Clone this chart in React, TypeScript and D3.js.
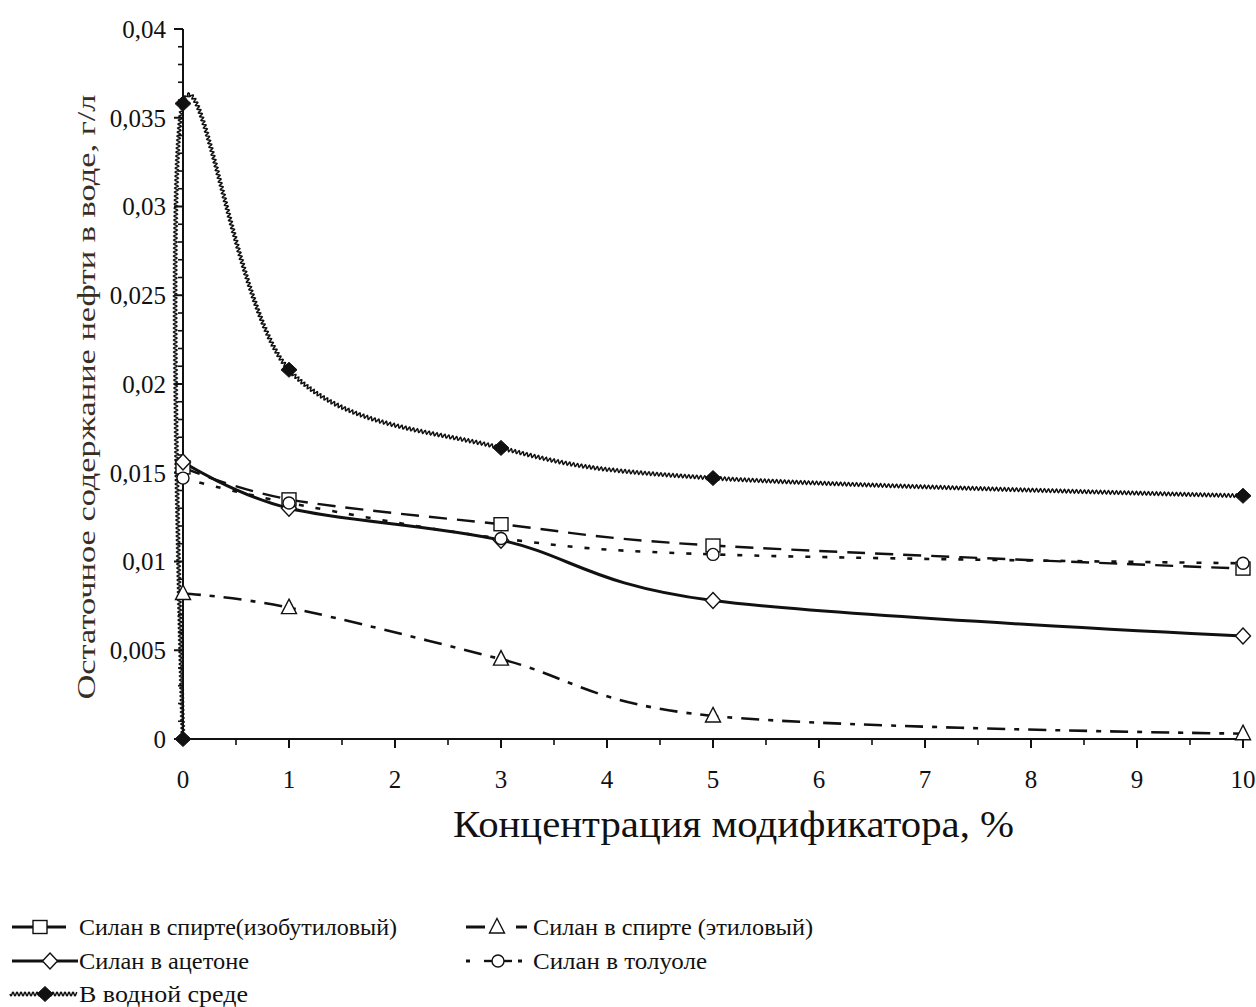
import React, { useEffect, useRef, useState } from 'react';
import * as d3 from 'd3';

// ---------- data ----------
const xValues = [0, 1, 3, 5, 10];
const isobutylValues = [0.0153, 0.0135, 0.0121, 0.0109, 0.0096];
const ethylValues = [0.0082, 0.0074, 0.0045, 0.0013, 0.0003];
const acetoneValues = [0.0156, 0.013, 0.0112, 0.0078, 0.0058];
const tolueneValues = [0.0147, 0.0133, 0.0113, 0.0104, 0.0099];
const waterX = [0, 0, 1, 3, 5, 10];
const waterValues = [0, 0.0358, 0.0208, 0.0164, 0.0147, 0.0137];

const seriesNames = [
  'Силан в спирте(изобутиловый)',
  'Силан в спирте (этиловый)',
  'Силан в ацетоне',
  'Силан в толуоле',
  'В водной среде',
];

const xTicks = [0, 1, 2, 3, 4, 5, 6, 7, 8, 9, 10];
const xTickLabels = ['0', '1', '2', '3', '4', '5', '6', '7', '8', '9', '10'];
const yTicks = [0, 0.005, 0.01, 0.015, 0.02, 0.025, 0.03, 0.035, 0.04];
const yTickLabels = ['0', '0,005', '0,01', '0,015', '0,02', '0,025', '0,03', '0,035', '0,04'];

const xTitle = 'Концентрация модификатора, %';
const yTitle = 'Остаточное содержание нефти в воде, г/л';

// ---------- layout ----------
const W = 1256;
const H = 1007;
const X0 = 183;
const X1 = 1243;
const Y0 = 739;
const Y1 = 29;
const FONT = '"Liberation Serif", "Times New Roman", serif';
const INK = '#111';

const x = d3.scaleLinear().domain([0, 10]).range([X0, X1]);
const y = d3.scaleLinear().domain([0, 0.04]).range([Y0, Y1]);
const curve = d3.curveCardinal.tension(0);

type Pt = [number, number];
const lineGen = d3
  .line<Pt>()
  .x((d) => x(d[0]))
  .y((d) => y(d[1]))
  .curve(curve);

const zip = (xs: number[], ys: number[]): Pt[] => xs.map((v, i) => [v, ys[i]] as Pt);

const isobutylPts = zip(xValues, isobutylValues);
const ethylPts = zip(xValues, ethylValues);
const acetonePts = zip(xValues, acetoneValues);
const toluenePts = zip(xValues, tolueneValues);
const waterPts = zip(waterX, waterValues);

function wavify(el: SVGPathElement, amp: number, wl: number): string {
  const L = el.getTotalLength();
  const pts: Pt[] = [];
  const step = 0.5;
  for (let s = 0; s <= L; s += step) {
    const p = el.getPointAtLength(s);
    const a = el.getPointAtLength(Math.max(0, s - 0.6));
    const b = el.getPointAtLength(Math.min(L, s + 0.6));
    const dx = b.x - a.x;
    const dy = b.y - a.y;
    const n = Math.hypot(dx, dy) || 1;
    const nx = -dy / n;
    const ny = dx / n;
    const off = amp * Math.sin((2 * Math.PI * s) / wl);
    pts.push([p.x + nx * off, p.y + ny * off]);
  }
  return d3.line()(pts as [number, number][]) || '';
}

function Marker({ kind, cx, cy }: { kind: string; cx: number; cy: number }) {
  const sw = 1.4;
  if (kind === 'square') {
    return <rect x={cx - 7} y={cy - 6.5} width={14} height={13} fill="#fff" stroke={INK} strokeWidth={sw} />;
  }
  if (kind === 'diamond') {
    return (
      <path
        d={`M${cx},${cy - 8}L${cx + 7.5},${cy}L${cx},${cy + 8}L${cx - 7.5},${cy}Z`}
        fill="#fff"
        stroke={INK}
        strokeWidth={sw}
      />
    );
  }
  if (kind === 'triangle') {
    return (
      <path
        d={`M${cx},${cy - 8.5}L${cx + 7.5},${cy + 6}L${cx - 7.5},${cy + 6}Z`}
        fill="#fff"
        stroke={INK}
        strokeWidth={sw}
      />
    );
  }
  if (kind === 'circle') {
    return <circle cx={cx} cy={cy} r={6} fill="#fff" stroke={INK} strokeWidth={sw} />;
  }
  // filled diamond
  return (
    <path
      d={`M${cx},${cy - 7.5}L${cx + 8},${cy}L${cx},${cy + 7.5}L${cx - 8},${cy}Z`}
      fill={INK}
      stroke={INK}
      strokeWidth={1}
    />
  );
}

const styles = [
  { pts: isobutylPts, marker: 'square', dash: '18,10', width: 2.4 },
  { pts: ethylPts, marker: 'triangle', dash: '18,9,5,9', width: 2.6 },
  { pts: acetonePts, marker: 'diamond', dash: '', width: 3 },
  { pts: toluenePts, marker: 'circle', dash: '5,12', width: 2.6 },
];

export default function App() {
  const waterRef = useRef<SVGPathElement>(null);
  const legendRef = useRef<SVGPathElement>(null);
  const [wavy, setWavy] = useState('');
  const [legendWavy, setLegendWavy] = useState('');

  useEffect(() => {
    if (waterRef.current) setWavy(wavify(waterRef.current, 1.7, 4));
    if (legendRef.current) setLegendWavy(wavify(legendRef.current, 1.7, 4));
  }, []);

  const xMinor = d3.range(0.5, 10, 1);
  const yMinor = d3.range(0, 41).map((i) => i * 0.001).filter((v, i) => i % 5 !== 0);

  const legendRows = [927, 961, 994];

  return (
    <svg
      width={W}
      height={H}
      style={{ position: 'absolute', left: 0, top: 0, background: '#fff' }}
      fontFamily={FONT}
    >
      <rect x={0} y={0} width={W} height={H} fill="#fff" />

      {/* axes */}
      <g stroke={INK} strokeWidth={2} fill="none">
        <line x1={X0} y1={Y0} x2={X1} y2={Y0} />
        <line x1={X0} y1={Y0} x2={X0} y2={Y1} />
        {xTicks.slice(1).map((t) => (
          <line key={'xt' + t} x1={x(t)} x2={x(t)} y1={Y0} y2={Y0 + 9} />
        ))}
        {xMinor.map((t) => (
          <line key={'xm' + t} x1={x(t)} x2={x(t)} y1={Y0} y2={Y0 + 6} strokeWidth={1.6} />
        ))}
        {yTicks.map((t) => (
          <line key={'yt' + t} x1={X0 - 9} x2={X0} y1={y(t)} y2={y(t)} />
        ))}
        {yMinor.map((t) => (
          <line key={'ym' + t} x1={X0 - 5} x2={X0} y1={y(t)} y2={y(t)} strokeWidth={1.6} />
        ))}
      </g>

      {/* tick labels */}
      <g fill={INK} fontSize={25}>
        {yTicks.map((t, i) => (
          <text key={'yl' + t} x={166} y={y(t)} dy="0.35em" textAnchor="end">
            {yTickLabels[i]}
          </text>
        ))}
        {xTicks.map((t, i) => (
          <text key={'xl' + t} x={x(t)} y={779} dy="0.35em" textAnchor="middle">
            {xTickLabels[i]}
          </text>
        ))}
      </g>

      {/* titles */}
      <text x={453} y={837} fontSize={38} fill={INK} textLength={561} lengthAdjust="spacingAndGlyphs">
        {xTitle}
      </text>
      <text
        transform={`translate(95,397) rotate(-90)`}
        textAnchor="middle"
        fontSize={25}
        fill="#3a2e22"
        textLength={605}
        lengthAdjust="spacingAndGlyphs"
      >
        {yTitle}
      </text>

      {/* series lines */}
      {styles.map((s, i) => (
        <path
          key={'l' + i}
          d={lineGen(s.pts) || ''}
          fill="none"
          stroke={INK}
          strokeWidth={s.width}
          strokeDasharray={s.dash || undefined}
        />
      ))}
      <path ref={waterRef} d={lineGen(waterPts) || ''} fill="none" stroke="none" />
      <path d={wavy} fill="none" stroke={INK} strokeWidth={1.5} />

      {/* markers */}
      {styles.map((s, i) => (
        <g key={'m' + i}>
          {s.pts.map((p, j) => (
            <Marker key={j} kind={s.marker} cx={x(p[0])} cy={y(p[1])} />
          ))}
        </g>
      ))}
      {waterPts.slice(1).map((p, j) => (
        <Marker key={'w' + j} kind="filled" cx={x(p[0])} cy={y(p[1])} />
      ))}
      <Marker kind="filled" cx={x(waterPts[0][0])} cy={y(waterPts[0][1])} />

      {/* legend */}
      <g fill={INK} fontSize={24}>
        {/* col 1 row 1 */}
        <line x1={12} x2={66} y1={legendRows[0]} y2={legendRows[0]} stroke={INK} strokeWidth={3} />
        <Marker kind="square" cx={40} cy={legendRows[0]} />
        <text x={79} y={legendRows[0]} dy="0.33em" textLength={318} lengthAdjust="spacingAndGlyphs">
          {seriesNames[0]}
        </text>
        {/* col 1 row 2 */}
        <line x1={12} x2={78} y1={legendRows[1]} y2={legendRows[1]} stroke={INK} strokeWidth={3} />
        <Marker kind="diamond" cx={50} cy={legendRows[1]} />
        <text x={79} y={legendRows[1]} dy="0.33em" textLength={170} lengthAdjust="spacingAndGlyphs">
          {seriesNames[2]}
        </text>
        {/* col 1 row 3 */}
        <path ref={legendRef} d={`M10,${legendRows[2]}L77,${legendRows[2]}`} fill="none" stroke="none" />
        <path d={legendWavy} fill="none" stroke={INK} strokeWidth={1.5} />
        <Marker kind="filled" cx={45} cy={legendRows[2]} />
        <text x={79} y={legendRows[2]} dy="0.33em" textLength={169} lengthAdjust="spacingAndGlyphs">
          {seriesNames[4]}
        </text>
        {/* col 2 row 1 */}
        <line x1={466} x2={485} y1={legendRows[0]} y2={legendRows[0]} stroke={INK} strokeWidth={3} />
        <line x1={516} x2={527} y1={legendRows[0]} y2={legendRows[0]} stroke={INK} strokeWidth={3} />
        <Marker kind="triangle" cx={497} cy={legendRows[0]} />
        <text x={533} y={legendRows[0]} dy="0.33em" textLength={280} lengthAdjust="spacingAndGlyphs">
          {seriesNames[1]}
        </text>
        {/* col 2 row 2 */}
        <line x1={466} x2={470} y1={legendRows[1]} y2={legendRows[1]} stroke={INK} strokeWidth={3} />
        <line x1={484} x2={512} y1={legendRows[1]} y2={legendRows[1]} stroke={INK} strokeWidth={2.4} />
        <line x1={518} x2={522} y1={legendRows[1]} y2={legendRows[1]} stroke={INK} strokeWidth={3} />
        <Marker kind="circle" cx={498} cy={legendRows[1]} />
        <text x={533} y={legendRows[1]} dy="0.33em" textLength={174} lengthAdjust="spacingAndGlyphs">
          {seriesNames[3]}
        </text>
      </g>
    </svg>
  );
}
